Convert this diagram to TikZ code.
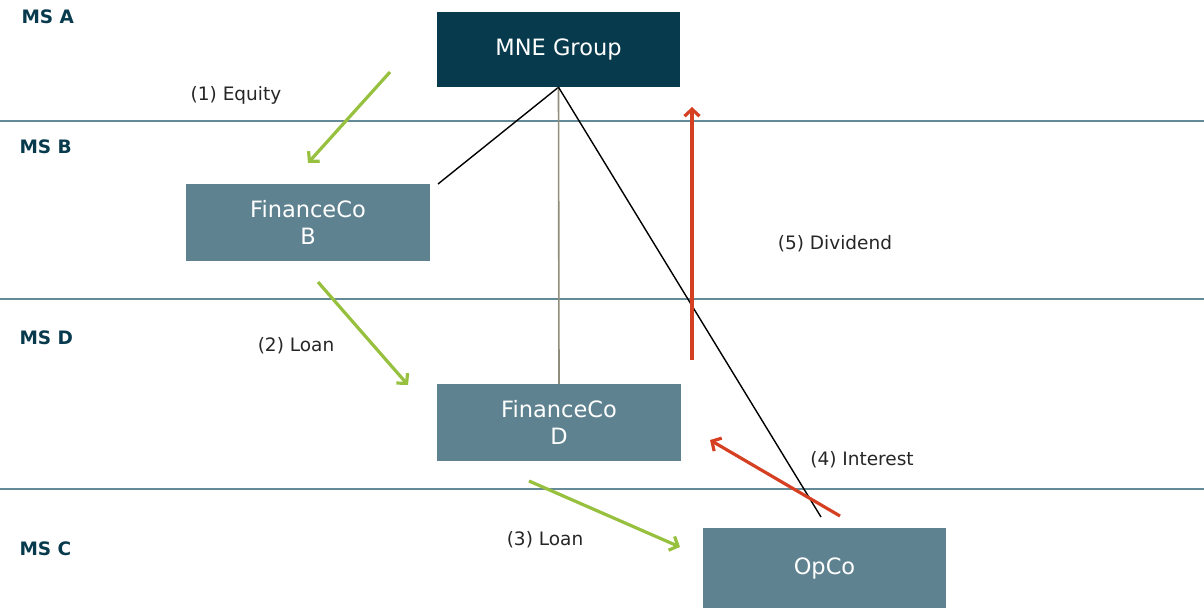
\documentclass[tikz,border=0pt]{standalone}
\usepackage{fontspec}
\setmainfont{DejaVu Sans}
\usetikzlibrary{arrows.meta}
\definecolor{darkteal}{RGB}{8,58,77}
\definecolor{greyteal}{RGB}{95,130,144}
\definecolor{bandline}{RGB}{100,138,152}
\definecolor{flowgreen}{RGB}{150,192,62}
\definecolor{flowred}{RGB}{214,64,34}
\begin{document}
\begin{tikzpicture}[x=1pt,y=-1pt,
  entity/.style={rectangle,inner sep=0pt,text=white,align=center,font=\fontsize{22.5}{27}\selectfont,minimum width=243pt},
  state label/.style={anchor=west,text=darkteal,font=\fontsize{18.5}{22}\selectfont\bfseries},
  flow label/.style={text=black!85,font=\fontsize{18.5}{22}\selectfont},
  band/.style={bandline,line width=2.2pt},
  own/.style={black,line width=1.4pt},
  green flow/.style={flowgreen,line width=3.2pt,-{Straight Barb[length=7pt,width=15pt]}},
  red flow/.style={flowred,line width=3.2pt,-{Straight Barb[length=7pt,width=15pt]}}]
\useasboundingbox (0,0) rectangle (1204,608);
% bands
\draw[band] (0,121) -- (1204,121);
\draw[band] (0,299) -- (1204,299);
\draw[band] (0,489) -- (1204,489);
\node[state label] (ms_a) at (18,17) {MS A};
\node[state label] (ms_b) at (16,147) {MS B};
\node[state label] (ms_d) at (16,338) {MS D};
\node[state label] (ms_c) at (16,549) {MS C};
% entities
\node[entity,fill=darkteal,minimum height=75pt] (mne) at (558.5,49.5) {MNE Group};
\node[entity,fill=greyteal,minimum height=77pt,minimum width=244pt] (fin_b) at (308,222.5) {FinanceCo\\B};
\node[entity,fill=greyteal,minimum height=77pt,minimum width=244pt] (fin_d) at (559,422.5) {FinanceCo\\D};
\node[entity,fill=greyteal,minimum height=80pt] (opco) at (824.5,568) {OpCo};
% ownership lines
\coordinate (b_own) at (438,184);
\coordinate (op_own) at (821,517);
\draw[own] (mne.south) -- (b_own);
\draw[gray!85!olive,line width=1.6pt] (mne.south) -- (fin_d.north);
\draw[own] (mne.south) -- (op_own);
% flows
\coordinate (eq_s) at (390,72);
\coordinate (eq_e) at (308,163);
\coordinate (l1_s) at (318,282);
\coordinate (l1_e) at (408,385);
\coordinate (l2_s) at (529,481);
\coordinate (l2_e) at (680,547);
\coordinate (in_s) at (840,516);
\coordinate (in_e) at (710,440);
\coordinate (dv_s) at (692,360);
\coordinate (dv_e) at (692,107);
\draw[green flow] (eq_s) -- (eq_e);
\draw[green flow] (l1_s) -- (l1_e);
\draw[green flow] (l2_s) -- (l2_e);
\draw[red flow] (in_s) -- (in_e);
\draw[red flow] (dv_s) -- (dv_e);
\node[flow label] (equity) at (236,95) {(1) Equity};
\node[flow label] (loan_1) at (296,346) {(2) Loan};
\node[flow label] (loan_2) at (545,540) {(3) Loan};
\node[flow label] (interest) at (862,460) {(4) Interest};
\node[flow label] (dividend) at (835,244) {(5) Dividend};
\end{tikzpicture}
\end{document}
